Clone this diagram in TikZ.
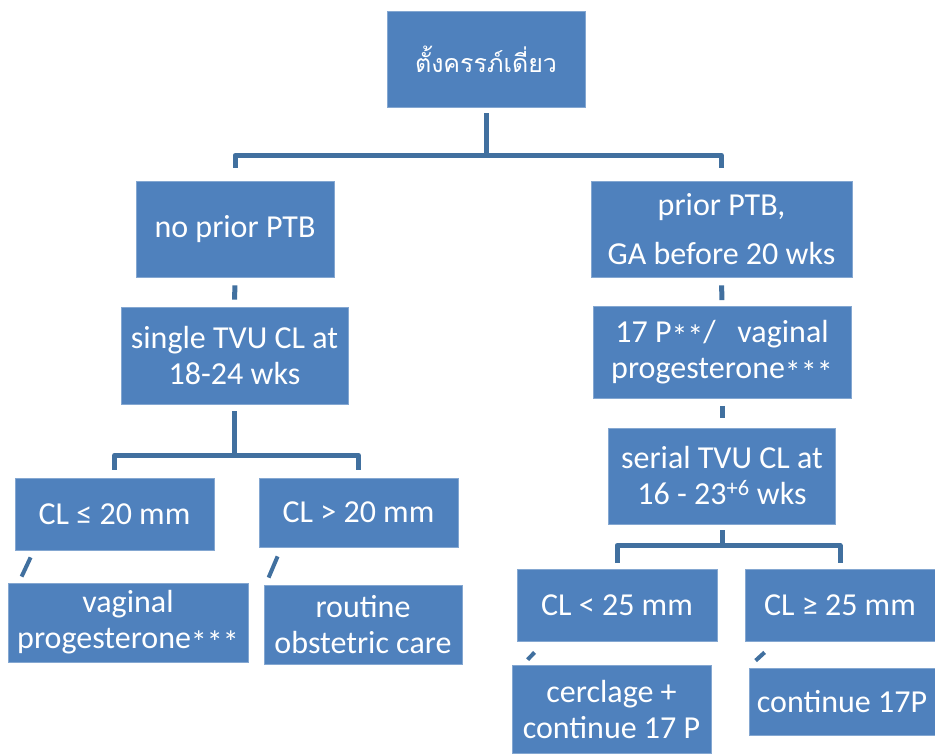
\documentclass[tikz,border=0pt]{standalone}
\usepackage{fontspec}
\setmainfont{Carlito}
\newfontfamily\thaifont[Script=Thai]{Loma}
\definecolor{boxblue}{HTML}{4F81BD}
\definecolor{lineblue}{HTML}{41709F}
\newcommand{\astx}[1]{\raisebox{-0.16em}{#1}}
\tikzset{
  box/.style={fill=boxblue, draw=boxblue!70!white, line width=0.8pt, text=white,
    align=center, inner sep=0pt, font=\fontsize{32}{36}\selectfont},
  fork/.style={draw=lineblue, line width=5pt, line join=round},
  slant/.style={draw=lineblue, line width=4pt}
}

\begin{document}
\begin{tikzpicture}[x=1pt,y=-1pt]
\useasboundingbox (0,0) rectangle (935,753);
\node[box, minimum width=198pt, minimum height=96pt] (top) at (486,59) {\thaifont\fontsize{25}{30}\selectfont ตั้งครรภ์เดี่ยว};
\node[box, minimum width=198pt, minimum height=96pt] (noprior) at (235,229) {no prior PTB};
\node[box, minimum width=261pt, minimum height=96pt] (prior) at (721.5,229) {prior PTB,\\[13pt]GA before 20 wks};
\node[box, minimum width=227pt, minimum height=97pt] (single) at (234.5,355.5) {single TVU CL at\\18-24 wks};
\node[box, minimum width=258pt, minimum height=92pt] (prog) at (722,352.5) {17 P\astx{**}/\ \ \ vaginal\\progesterone\astx{***}};
\node[box, minimum width=227pt, minimum height=96pt] (serial) at (722,476) {serial TVU CL at\\16 - 23\textsuperscript{+6} wks};
\node[box, minimum width=199pt, minimum height=72pt] (le20) at (114.5,514) {CL ≤ 20 mm};
\node[box, minimum width=199pt, minimum height=69pt] (gt20) at (358.5,512.5) {CL > 20 mm};
\node[box, minimum width=240pt, minimum height=79pt] (vagprog) at (128,622.5) {vaginal\\progesterone\astx{***}};
\node[box, minimum width=198pt, minimum height=79pt] (routine) at (363,624.5) {routine\\obstetric care};
\node[box, minimum width=200pt, minimum height=72pt] (lt25) at (617,605) {CL < 25 mm};
\node[box, minimum width=190pt, minimum height=72pt] (ge25) at (840,605) {CL ≥ 25 mm};
\node[box, minimum width=199pt, minimum height=88pt] (cerclage) at (611.5,709) {cerclage +\\continue 17 P};
\node[box, minimum width=186pt, minimum height=67pt] (cont) at (842,701.5) {continue 17P};
\draw[fork, shorten <=6pt, shorten >=13pt] (top.south) -- ++(0,48) -| (noprior.north);
\draw[fork, shorten <=6pt, shorten >=13pt] (top.south) -- ++(0,48) -| (prior.north);
\draw[fork, shorten <=8pt, shorten >=7pt] (noprior.south) -- (single.north);
\draw[fork, shorten <=8pt, shorten >=6pt] (prior.south) -- (prog.north);
\draw[fork, shorten <=7pt, shorten >=10pt] (prog.south) -- (serial.north);
\draw[fork, shorten <=7pt, shorten >=8pt] (single.south) -- ++(0,51) -| (le20.north);
\draw[fork, shorten <=7pt, shorten >=8pt] (single.south) -- ++(0,51) -| (gt20.north);
\draw[fork, shorten <=6pt, shorten >=6pt] (serial.south) -- ++(0,21) -| (lt25.north);
\draw[fork, shorten <=6pt, shorten >=6pt] (serial.south) -- ++(0,21) -| (ge25.north);
\draw[slant] ([xshift=16pt,yshift=-7pt]le20.south west) -- ([xshift=14pt,yshift=6pt]vagprog.north west);
\draw[slant] ([xshift=19pt,yshift=-9pt]gt20.south west) -- ([xshift=5pt,yshift=7pt]routine.north west);
\draw[slant] ([xshift=18pt,yshift=-11pt]lt25.south west) -- ([xshift=16pt,yshift=5pt]cerclage.north west);
\draw[slant] ([xshift=20pt,yshift=-11pt]ge25.south west) -- ([xshift=7pt,yshift=7pt]cont.north west);
\end{tikzpicture}
\end{document}
